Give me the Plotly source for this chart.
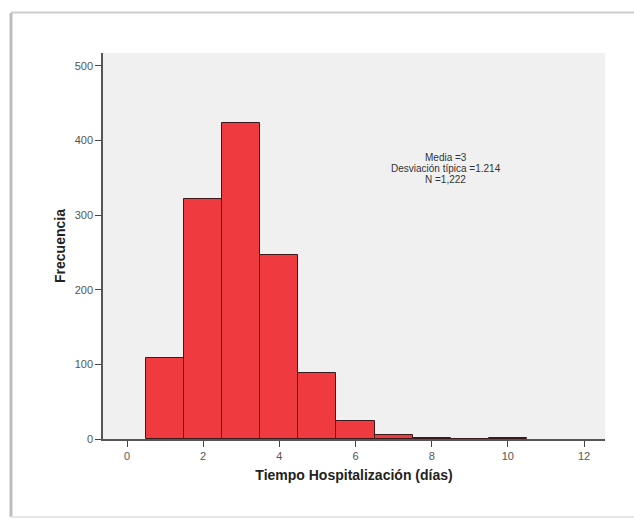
import plotly.graph_objects as go

# Data
dias = [1, 2, 3, 4, 5, 6, 7, 8, 9, 10]
frecuencia = [108, 322, 423, 247, 88, 24, 6, 2, 0, 2]
x_ticks = [0, 2, 4, 6, 8, 10, 12]
y_ticks = [0, 100, 200, 300, 400, 500]
stats_lines = ["Media =3", "Desviación típica =1.214", "N =1,222"]

W, H = 634, 519
L, R, T, B = 103, 29, 53, 80
PW, PH = W - L - R, H - T - B

fig = go.Figure()
fig.add_trace(go.Bar(
    x=dias, y=frecuencia, width=1,
    marker=dict(color="#EF3A40", line=dict(color="#3a1a1a", width=1)),
    hoverinfo="x+y", showlegend=False,
))

for i, line in enumerate(stats_lines):
    fig.add_annotation(
        x=8.37, y=(439 - 158 - 11 * i) / 0.746, xref="x", yref="y", text=line,
        showarrow=False, align="center",
        font=dict(family="Arial, Liberation Sans", size=10, color="#333333"),
    )

def px_x(p):
    return (p - L) / PW

def px_y(p):
    return (H - B - p) / PH

# outer page frame (left edge with shadow, top, bottom)
fig.add_shape(type="line", xref="paper", yref="paper",
              x0=px_x(11), x1=px_x(11), y0=px_y(517), y1=px_y(13),
              line=dict(color="#bdbdbd", width=3), layer="below")
fig.add_shape(type="line", xref="paper", yref="paper",
              x0=px_x(11), x1=px_x(640), y0=px_y(12.5), y1=px_y(12.5),
              line=dict(color="#cccccc", width=2), layer="below")
fig.add_shape(type="line", xref="paper", yref="paper",
              x0=px_x(11), x1=px_x(640), y0=px_y(517), y1=px_y(517),
              line=dict(color="#e6e6e6", width=2), layer="below")

fig.update_layout(
    width=W, height=H,
    margin=dict(l=L, r=R, t=T, b=B),
    paper_bgcolor="white",
    plot_bgcolor="#F0F0F0",
    bargap=0,
    font=dict(family="Arial, Liberation Sans", color="#333333"),
    xaxis=dict(
        range=[-0.63, 12.55], tickmode="array", tickvals=x_ticks,
        ticks="outside", ticklen=6, tickcolor="#444", tickwidth=1,
        showline=True, linecolor="#555", linewidth=1.5,
        showgrid=False, zeroline=False,
        tickfont=dict(size=11, color="#555"),
        title=dict(text="<b>Tiempo Hospitalización (días)</b>",
                   font=dict(size=14, color="#222"), standoff=9),
    ),
    yaxis=dict(
        range=[0, 517], tickmode="array", tickvals=y_ticks,
        ticks="outside", ticklen=6, tickcolor="#444", tickwidth=1,
        showline=True, linecolor="#555", linewidth=1.5,
        showgrid=False, zeroline=False,
        tickfont=dict(size=11, color="#555"),
        title=dict(text="<b>Frecuencia</b>", font=dict(size=14, color="#222"), standoff=6),
    ),
)

fig.write_html("out.html")
